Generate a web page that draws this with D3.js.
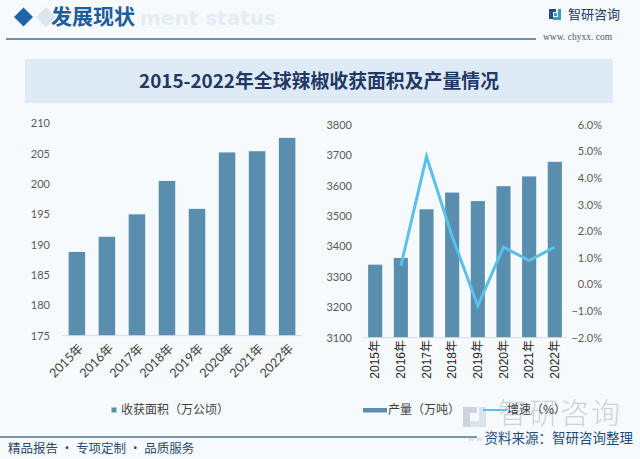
<!DOCTYPE html>
<html><head><meta charset="utf-8">
<script src="https://cdn.jsdelivr.net/npm/d3@7"></script>
<style>
html,body{margin:0;padding:0;background:#f7fafd;}
svg{display:block;}
</style></head>
<body>
<svg id="c" width="640" height="459"></svg>
<script>
const years = ["2015年","2016年","2017年","2018年","2019年","2020年","2021年","2022年"];
const areaValues = [188.8, 191.3, 195.0, 200.5, 195.9, 205.2, 205.4, 207.6];
const prodValues = [3340, 3362, 3522, 3577, 3549, 3598, 3630, 3678];
const growthYears = ["2016年","2017年","2018年","2019年","2020年","2021年","2022年"];
const growthValues = [0.7, 4.8, 1.8, -0.8, 1.4, 0.9, 1.4];
const areaTicks = [175,180,185,190,195,200,205,210];
const prodTicks = [3100,3200,3300,3400,3500,3600,3700,3800];
const growthTicks = [-2,-1,0,1,2,3,4,5,6];

const BAR = "#5a8eae", LINE = "#58c1ec", TXT = "#595959";
const svg = d3.select("#c");
const sans = "Lato, 'Noto Sans CJK SC', sans-serif";
const cjk = "'Noto Sans CJK SC', sans-serif";

// background
svg.append("rect").attr("width",640).attr("height",459).attr("fill","#f7fafd");

// header
svg.append("path").attr("d","M36,17 L46,7 L56,17 L46,27 Z").attr("fill","#dbe6f0");
svg.append("path").attr("d","M14,17 L23.5,7.5 L33,17 L23.5,26.5 Z").attr("fill","#1f66a8");
svg.append("text").attr("x",140).attr("y",25).text("ment status")
  .attr("font-family","'DejaVu Sans', sans-serif").attr("font-weight",700).attr("font-size",20).attr("fill","#e4ecf4");
svg.append("text").attr("x",51).attr("y",24).text("发展现状")
  .attr("font-family",cjk).attr("font-weight",700).attr("font-size",21).attr("fill","#1e5d9c");
svg.append("line").attr("x1",6).attr("x2",536).attr("y1",39).attr("y2",39).attr("stroke","#4a6f8f").attr("stroke-width",1.5);
// logo
const lg = svg.append("g").attr("transform","translate(549,9)");
lg.append("rect").attr("x",0).attr("y",0).attr("width",4).attr("height",10).attr("fill","#1f4e8c");
lg.append("rect").attr("x",0).attr("y",0).attr("width",7).attr("height",3).attr("fill","#1f4e8c");
lg.append("rect").attr("x",5).attr("y",4).attr("width",3).attr("height",3).attr("fill","#2a9fd8");
lg.append("rect").attr("x",9).attr("y",0).attr("width",3).attr("height",10).attr("fill","#2a9fd8");
lg.append("rect").attr("x",4).attr("y",8).attr("width",8).attr("height",3).attr("fill","#2a9fd8");
svg.append("text").attr("x",568).attr("y",19).text("智研咨询")
  .attr("font-family",cjk).attr("font-size",13).attr("fill","#1f3864");
svg.append("text").attr("x",543).attr("y",40).text("www. chyxx. com")
  .attr("font-family","'Liberation Serif', serif").attr("font-size",9.5).attr("fill","#555");

// title band
svg.append("rect").attr("x",25).attr("y",59).attr("width",588).attr("height",44).attr("fill","#deeaf6");
svg.append("text").attr("x",319).attr("y",88).attr("text-anchor","middle")
  .text("2015-2022年全球辣椒收获面积及产量情况")
  .attr("font-family",cjk).attr("font-weight",700).attr("font-size",19).attr("fill","#1f3864")
  .attr("textLength",360).attr("lengthAdjust","spacingAndGlyphs");

// ---- Left chart ----
const xL = d3.scaleBand().domain(years).range([62,302]).paddingInner(0.45).paddingOuter(0.22);
const yL = d3.scaleLinear().domain([175,210]).range([335.7,123.3]);
const gL = svg.append("g");
gL.selectAll("rect.b").data(years).join("rect").attr("class","b")
  .attr("x",d=>xL(d)).attr("width",xL.bandwidth())
  .attr("y",(d,i)=>yL(areaValues[i])).attr("height",(d,i)=>yL(175)-yL(areaValues[i]))
  .attr("fill",BAR);
gL.append("g").attr("transform","translate(50,0)")
  .call(d3.axisLeft(yL).tickValues(areaTicks).tickSize(0).tickPadding(0).tickFormat(d3.format("d")))
  .call(g=>g.select(".domain").remove())
  .call(g=>g.selectAll("text").attr("font-family",sans).attr("font-size",11).attr("fill",TXT));
gL.append("line").attr("x1",62).attr("x2",302).attr("y1",335.7).attr("y2",335.7).attr("stroke","#d9d9d9");
gL.selectAll("text.xl").data(years).join("text").attr("class","xl")
  .attr("transform",d=>`translate(${xL(d)+xL.bandwidth()/2+4},${346}) rotate(-45)`)
  .attr("text-anchor","end").attr("dy","0.35em").text(d=>d)
  .attr("font-family",sans).attr("font-size",12.5).attr("fill","#404040");
// legend left
svg.append("rect").attr("x",111.5).attr("y",407.5).attr("width",5).attr("height",5).attr("fill",BAR);
svg.append("text").attr("x",121).attr("y",410).attr("dy","0.35em").text("收获面积（万公顷）")
  .attr("font-family",cjk).attr("font-size",12).attr("fill","#404040");

// ---- Right chart ----
const xR = d3.scaleBand().domain(years).range([363,567]).paddingInner(0.45).paddingOuter(0.2);
const yR = d3.scaleLinear().domain([3100,3800]).range([337.7,124.7]);
const yG = d3.scaleLinear().domain([-2,6]).range([337.7,124.7]);
const gR = svg.append("g");
gR.selectAll("rect.b").data(years).join("rect").attr("class","b")
  .attr("x",d=>xR(d)).attr("width",xR.bandwidth())
  .attr("y",(d,i)=>yR(prodValues[i])).attr("height",(d,i)=>yR(3100)-yR(prodValues[i]))
  .attr("fill",BAR);
gR.append("g").attr("transform","translate(352,0)")
  .call(d3.axisLeft(yR).tickValues(prodTicks).tickSize(0).tickPadding(0).tickFormat(d3.format("d")))
  .call(g=>g.select(".domain").remove())
  .call(g=>g.selectAll("text").attr("font-family",sans).attr("font-size",11).attr("fill",TXT));
gR.append("g").attr("transform","translate(602,0)")
  .call(d3.axisLeft(yG).tickValues(growthTicks).tickSize(0).tickPadding(0).tickFormat(d=>d3.format(".1f")(d)+"%"))
  .call(g=>g.select(".domain").remove())
  .call(g=>g.selectAll("text").attr("font-family",sans).attr("font-size",11).attr("fill",TXT));
gR.append("line").attr("x1",363).attr("x2",567).attr("y1",337.7).attr("y2",337.7).attr("stroke","#d9d9d9");
const line = d3.line().x((d,i)=>xR(growthYears[i])+xR.bandwidth()/2).y(d=>yG(d));
gR.append("path").datum(growthValues).attr("d",line).attr("fill","none")
  .attr("stroke",LINE).attr("stroke-width",3).attr("stroke-linejoin","miter");
gR.selectAll("text.xr").data(years).join("text").attr("class","xr")
  .attr("transform",d=>`translate(${xR(d)+xR.bandwidth()/2},${340}) rotate(-90)`)
  .attr("text-anchor","end").attr("dy","0.35em").text(d=>d)
  .attr("font-family","'Liberation Sans', 'Noto Sans CJK SC', sans-serif").attr("font-size",12).attr("fill","#262626");

// watermark (bottom right)
const wm = svg.append("g").attr("opacity",0.45);
wm.append("rect").attr("x",463).attr("y",407).attr("width",7).attr("height",20).attr("fill","#9aa9b8");
wm.append("rect").attr("x",463).attr("y",407).attr("width",14).attr("height",6).attr("fill","#9aa9b8");
wm.append("rect").attr("x",479).attr("y",407).attr("width",7).attr("height",20).attr("fill","#b8c8d8");
wm.append("rect").attr("x",470).attr("y",421).attr("width",16).attr("height",6).attr("fill","#b8c8d8");
wm.append("text").attr("x",498).attr("y",424).text("智研咨询")
  .attr("font-family",cjk).attr("font-weight",300).attr("font-size",29).attr("fill","#9aa3ad")
  .attr("textLength",122).attr("lengthAdjust","spacing");
wm.append("text").attr("x",468).attr("y",441).text("w w")
  .attr("font-family",sans).attr("font-size",8).attr("fill","#9aa3ad");

// legend right
svg.append("rect").attr("x",363).attr("y",408).attr("width",24).attr("height",4.5).attr("fill",BAR);
svg.append("text").attr("x",388).attr("y",410).attr("dy","0.35em").text("产量（万吨）")
  .attr("font-family",cjk).attr("font-size",12).attr("fill","#404040");
svg.append("line").attr("x1",483).attr("x2",507).attr("y1",410).attr("y2",410).attr("stroke",LINE).attr("stroke-width",2);
svg.append("text").attr("x",507).attr("y",410).attr("dy","0.35em").text("增速（%）")
  .attr("font-family",cjk).attr("font-size",12).attr("fill","#404040");

// footer
svg.append("line").attr("x1",0).attr("x2",477).attr("y1",437).attr("y2",437).attr("stroke","#7b95ad").attr("stroke-width",2);
svg.append("text").attr("x",8).attr("y",449).attr("dy","0.35em").text("精品报告 · 专项定制 · 品质服务")
  .attr("font-family",cjk).attr("font-size",12.5).attr("fill","#2b4a6b");
svg.append("text").attr("x",633).attr("y",438).attr("dy","0.35em").attr("text-anchor","end").text("资料来源：智研咨询整理")
  .attr("font-family",cjk).attr("font-size",13.5).attr("fill","#1f4e79");
</script>
</body></html>
